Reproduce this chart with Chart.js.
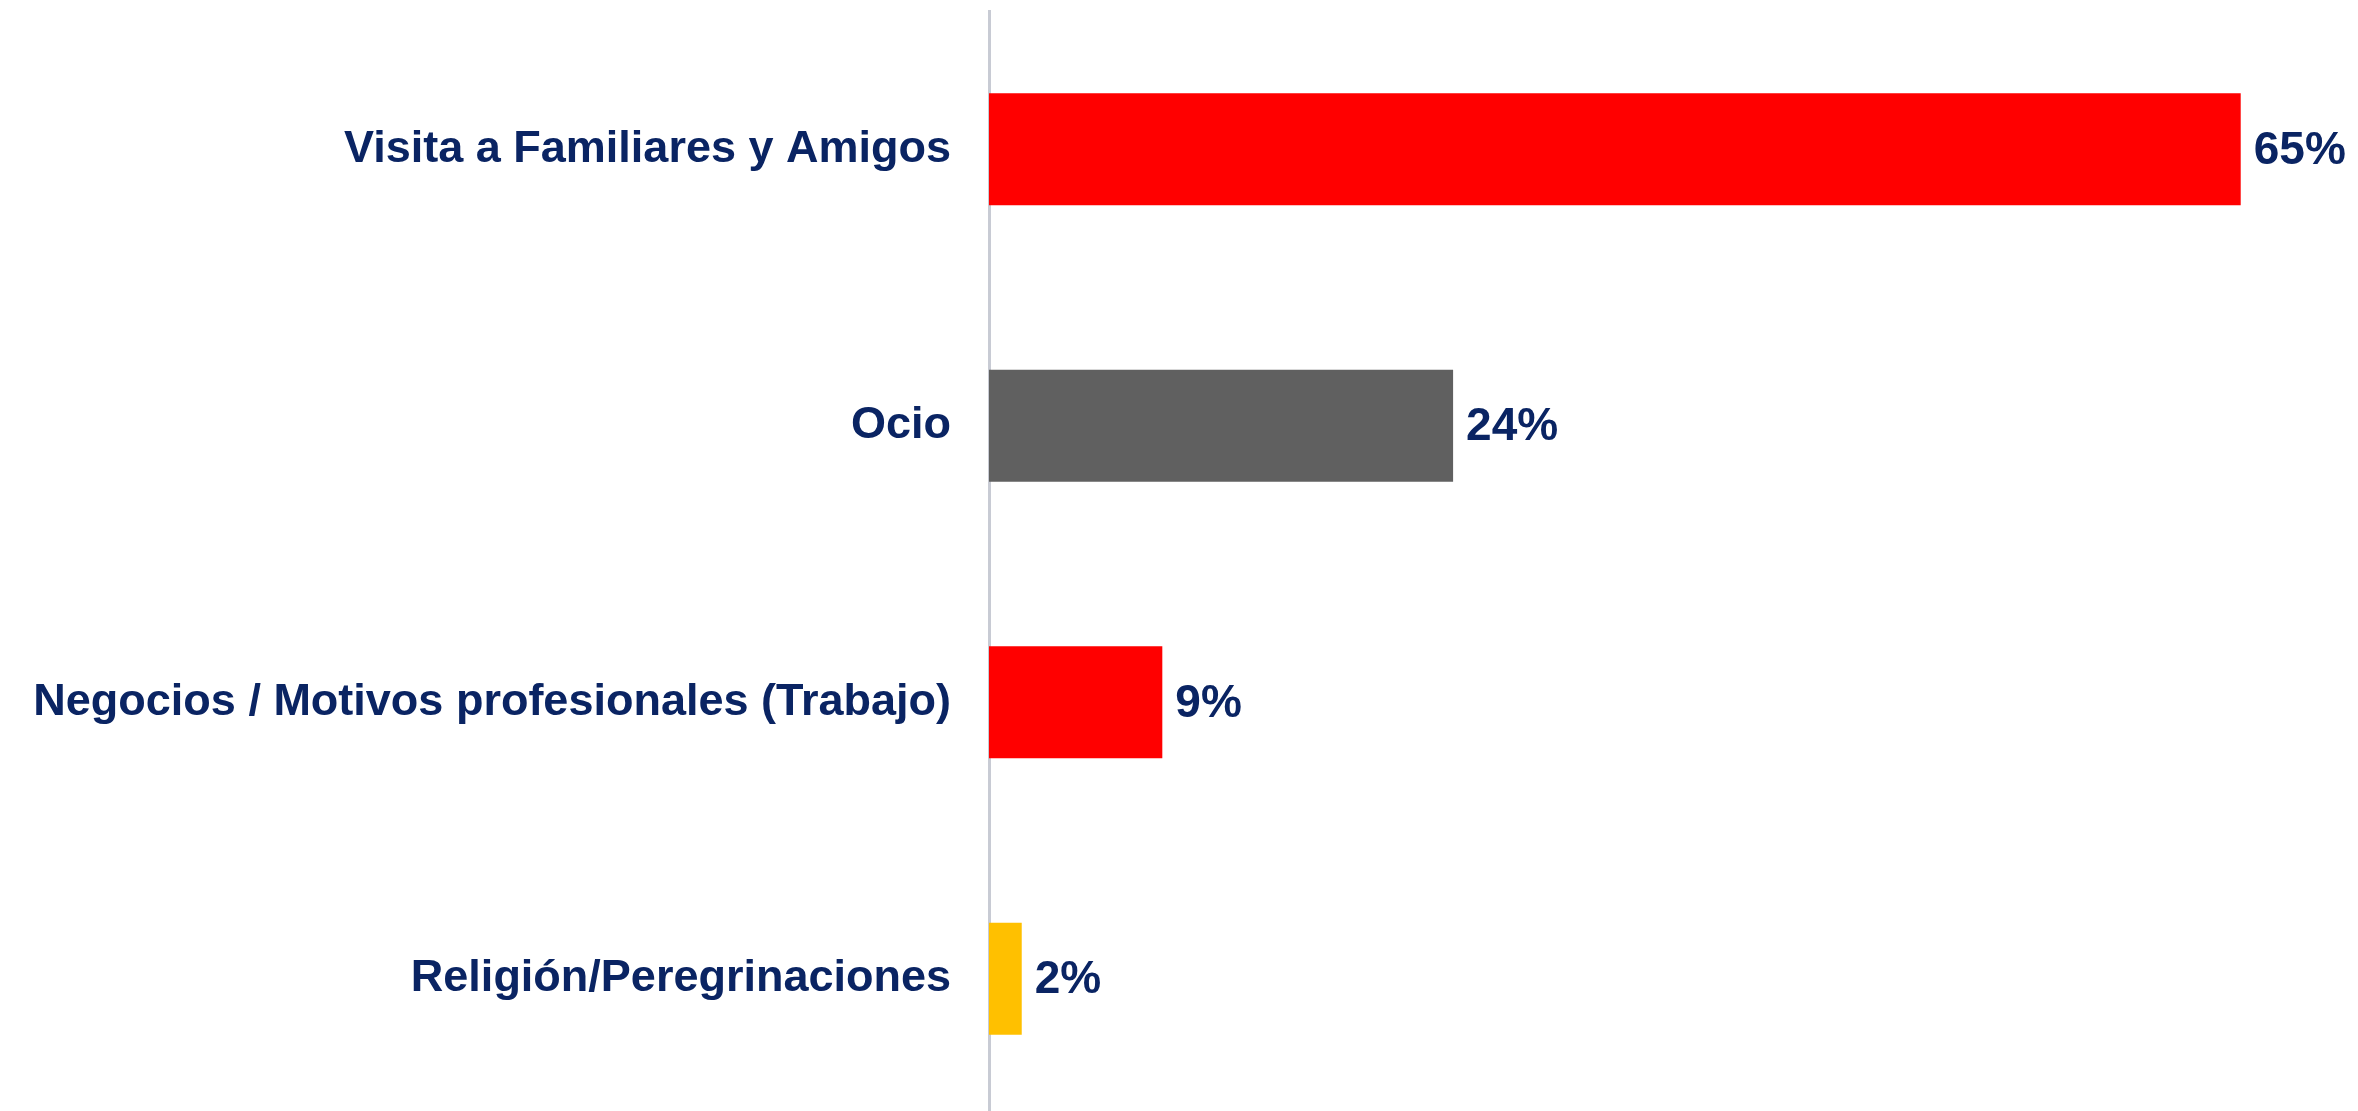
<!DOCTYPE html>
<html>
<head>
<meta charset="utf-8">
<script src="https://cdn.jsdelivr.net/npm/chart.js@4.4.1/dist/chart.umd.min.js"></script>
<style>
  html, body { margin: 0; padding: 0; background: #fff; overflow: hidden; }
  #wrap { width: 2358px; height: 1130px; position: relative; }
</style>
</head>
<body>
<div id="wrap"><canvas id="motivos-chart"></canvas></div>
<script>
// motivos del viaje (%)
var categories = ['Visita a Familiares y Amigos', 'Ocio', 'Negocios / Motivos profesionales (Trabajo)', 'Religión/Peregrinaciones'];
var values = [65, 24.1, 9, 1.7];
var valueLabels = ['65%', '24%', '9%', '2%'];
var barColors = ['#ff0000', '#606060', '#ff0000', '#ffc000'];

var navy = '#0a2463';

// value text right of each bar
var valueText = {
  id: 'valueText',
  afterDatasetsDraw: function(chart) {
    var ctx = chart.ctx;
    var meta = chart.getDatasetMeta(0);
    ctx.save();
    ctx.font = 'bold 46px "Liberation Sans", Arial, sans-serif';
    ctx.fillStyle = navy;
    ctx.textAlign = 'left';
    ctx.textBaseline = 'middle';
    meta.data.forEach(function(bar, i) {
      ctx.fillText(valueLabels[i], bar.x + 13, bar.y + 2);
    });
    ctx.restore();
  }
};

var chart = new Chart(document.getElementById('motivos-chart'), {
  type: 'bar',
  data: {
    labels: categories,
    datasets: [{
      data: values,
      backgroundColor: barColors,
      borderWidth: 0,
      categoryPercentage: 1,
      barPercentage: 0.405
    }]
  },
  options: {
    indexAxis: 'y',
    responsive: true,
    maintainAspectRatio: false,
    animation: false,
    layout: { padding: { top: 11, right: 21, bottom: 13, left: 0 } },
    plugins: {
      legend: { display: false },
      tooltip: { enabled: false }
    },
    scales: {
      x: {
        display: false,
        min: 0,
        max: 70
      },
      y: {
        afterFit: function(scale) { scale.width = 989; },
        grid: { display: false, drawTicks: true, tickLength: 38 },
        border: { display: true, color: '#c8cbd4', width: 3 },
        ticks: {
          padding: 0,
          color: navy,
          font: { family: '"Liberation Sans", Arial, sans-serif', size: 45, weight: 'bold', lineHeight: 0.4 }
        }
      }
    }
  },
  plugins: [valueText]
});
</script>
</body>
</html>
